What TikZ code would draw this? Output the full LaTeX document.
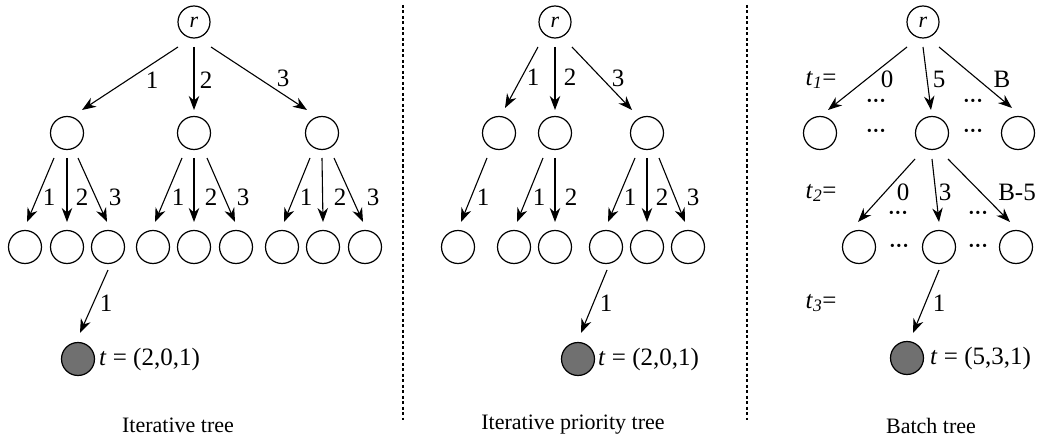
\documentclass[tikz,border=0pt]{standalone}
\usepackage{fontspec}
\setmainfont{Liberation Serif}
\usetikzlibrary{calc,arrows.meta}
\definecolor{nodegray}{RGB}{112,112,112}
\tikzset{
  tnode/.style={circle,draw,line width=1.2pt,minimum size=33pt,inner sep=0pt},
  rootnode/.style={tnode,minimum size=32pt},
  goal/.style={tnode,fill=nodegray},
  arr/.style={line width=1.1pt,-{Stealth[length=14pt,width=10.5pt,inset=4.5pt]}},
  lbl/.style={inner sep=0pt,font=\fontsize{25}{30}\selectfont},
  captxt/.style={inner sep=0pt,font=\fontsize{22}{26}\selectfont},
  divider/.style={line width=1.2pt,dash pattern=on 3pt off 2.5pt},
  dotsl/.style={inner sep=0pt,text height=10pt,text depth=0pt,font=\fontsize{20}{24}\selectfont\bfseries}
}
\newcommand\edg[6]{\draw[arr] ($(#1)+(#3,#4)$) -- ($(#2)+(#5,#6)$);}
\begin{document}
\begin{tikzpicture}[x=1pt,y=-1pt,font=\fontsize{22}{26}\selectfont]
\useasboundingbox (0,0) rectangle (1044,441);
% dividers
\coordinate (d1t) at (403,5); \coordinate (d1b) at (403,420);
\coordinate (d2t) at (747,5); \coordinate (d2b) at (747,420);
\draw[divider] (d1t) -- (d1b);
\draw[divider] (d2t) -- (d2b);

% ===== Panel 1: Iterative tree =====
\node[rootnode] (r1) at (194,22) {\textit{r}};
\node[tnode] (a1) at (67,133) {};
\node[tnode] (b1) at (194,133) {};
\node[tnode] (c1) at (322,133) {};
\node[tnode] (a1x) at (25,247) {};
\node[tnode] (a1y) at (67,247) {};
\node[tnode] (a1z) at (108,247) {};
\node[tnode] (b1x) at (153,247) {};
\node[tnode] (b1y) at (194,247) {};
\node[tnode] (b1z) at (236,247) {};
\node[tnode] (c1x) at (282,247) {};
\node[tnode] (c1y) at (323,247) {};
\node[tnode] (c1z) at (365,247) {};
\node[goal] (g1) at (78,359) {};
\edg{r1}{a1}{-16}{25}{15}{-23}
\edg{r1}{b1}{0}{25}{0}{-23}
\edg{r1}{c1}{17}{25}{-15}{-23}
\edg{a1}{a1x}{-13}{25}{2}{-25}
\edg{a1}{a1y}{0}{25}{0}{-25}
\edg{a1}{a1z}{11}{25}{-1}{-25}
\edg{b1}{b1x}{-12}{25}{2}{-25}
\edg{b1}{b1y}{0}{25}{0}{-25}
\edg{b1}{b1z}{13}{25}{-1}{-25}
\edg{c1}{c1x}{-12}{25}{2}{-25}
\edg{c1}{c1y}{0}{25}{0}{-25}
\edg{c1}{c1z}{12}{25}{-2}{-25}
\edg{a1z}{g1}{0}{23}{2}{-26}
\node[lbl] (l1a) at (152,80) {1};
\node[lbl] (l1b) at (206,80) {2};
\node[lbl] (l1c) at (283,78) {3};
\node[lbl] (l1d) at (49,197) {1};
\node[lbl] (l1e) at (82,197) {2};
\node[lbl] (l1f) at (115,197) {3};
\node[lbl] (l1g) at (178,197) {1};
\node[lbl] (l1h) at (211,197) {2};
\node[lbl] (l1i) at (243,197) {3};
\node[lbl] (l1j) at (306,197) {1};
\node[lbl] (l1k) at (340,197) {2};
\node[lbl] (l1l) at (373,197) {3};
\node[lbl] (l1m) at (106,303) {1};
\node[lbl,anchor=west] (t1) at (99,359) {\textit{t} = (2,0,1)};
\node[captxt] (cap1) at (178,425) {Iterative tree};

% ===== Panel 2: Iterative priority tree =====
\node[rootnode] (r2) at (555,22) {\textit{r}};
\node[tnode] (a2) at (499,133) {};
\node[tnode] (b2) at (555,133) {};
\node[tnode] (c2) at (647,133) {};
\node[tnode] (p2) at (458,247) {};
\node[tnode] (q2) at (514,247) {};
\node[tnode] (s2) at (555,247) {};
\node[tnode] (u2) at (606,247) {};
\node[tnode] (v2) at (647,247) {};
\node[tnode] (w2) at (688,247) {};
\node[goal] (g2) at (578,359) {};
\edg{r2}{a2}{-17}{25}{6}{-25}
\edg{r2}{b2}{0}{25}{0}{-23}
\edg{r2}{c2}{17}{25}{-15}{-23}
\edg{a2}{p2}{-12}{25}{3}{-25}
\edg{b2}{q2}{-12}{25}{3}{-25}
\edg{b2}{s2}{0}{25}{0}{-25}
\edg{c2}{u2}{-12}{25}{2}{-25}
\edg{c2}{v2}{0}{25}{0}{-25}
\edg{c2}{w2}{12}{25}{-3}{-25}
\edg{u2}{g2}{1}{23}{3}{-26}
\node[lbl] (l2a) at (533,77) {1};
\node[lbl] (l2b) at (570,77) {2};
\node[lbl] (l2c) at (618,78) {3};
\node[lbl] (l2d) at (483,197) {1};
\node[lbl] (l2e) at (539,197) {1};
\node[lbl] (l2f) at (571,197) {2};
\node[lbl] (l2g) at (630,197) {1};
\node[lbl] (l2h) at (662,197) {2};
\node[lbl] (l2i) at (693,197) {3};
\node[lbl] (l2j) at (606,303) {1};
\node[lbl,anchor=west] (t2) at (598,359) {\textit{t} = (2,0,1)};
\node[captxt] (cap2) at (573,425) {Iterative priority tree};

% ===== Panel 3: Batch tree =====
\node[rootnode] (r3) at (923,22) {\textit{r}};
\node[tnode] (a3) at (820,133) {};
\node[tnode] (b3) at (932,133) {};
\node[tnode] (c3) at (1018,133) {};
\node[tnode] (d3) at (859,247) {};
\node[tnode] (e3) at (939,247) {};
\node[tnode] (f3) at (1016,247) {};
\node[goal] (g3) at (907,358) {};
\edg{r3}{a3}{-16}{25}{8}{-23}
\edg{r3}{b3}{0}{25}{-1}{-23}
\edg{r3}{c3}{16}{25}{-6}{-25}
\edg{b3}{d3}{-17}{26}{-1}{-25}
\edg{b3}{e3}{0}{26}{0}{-25}
\edg{b3}{f3}{16}{26}{-6}{-25}
\edg{e3}{g3}{0}{23}{6}{-25}
\node[lbl] (tt1) at (821,80) {\textit{t}\textsubscript{\textit{1}}=};
\node[lbl] (tt2) at (821,193) {\textit{t}\textsubscript{\textit{2}}=};
\node[lbl] (tt3) at (821,303) {\textit{t}\textsubscript{\textit{3}}=};
\node[lbl] (l3a) at (887,79) {0};
\node[lbl] (l3b) at (939,79) {5};
\node[lbl] (l3c) at (1002,79) {B};
\node[lbl] (l3d) at (903,192) {0};
\node[lbl] (l3e) at (945,192) {3};
\node[lbl] (l3f) at (1017,192) {B-5};
\node[lbl] (l3g) at (939,303) {1};
\node[dotsl] (k1) at (876,103) {···};
\node[dotsl] (k2) at (973,103) {···};
\node[dotsl] (k3) at (876,133) {···};
\node[dotsl] (k4) at (973,133) {···};
\node[dotsl] (k5) at (898,214) {···};
\node[dotsl] (k6) at (978,214) {···};
\node[dotsl] (k7) at (899,247) {···};
\node[dotsl] (k8) at (978,247) {···};
\node[lbl,anchor=west] (t3) at (930,358) {\textit{t} = (5,3,1)};
\node[captxt] (cap3) at (931,426) {Batch tree};
\end{tikzpicture}
\end{document}
